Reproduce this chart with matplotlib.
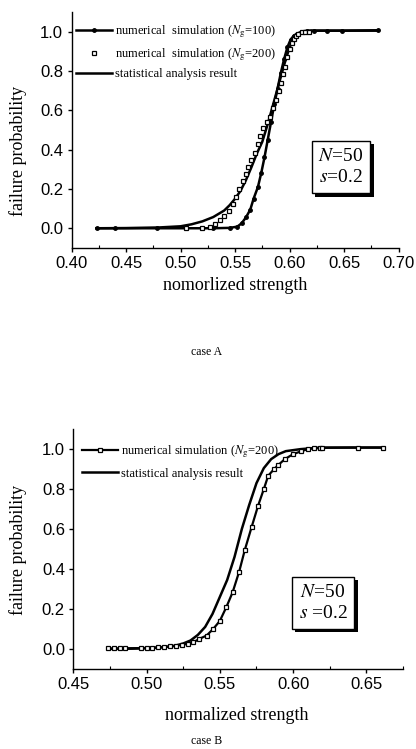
import matplotlib
matplotlib.use("Agg")
import matplotlib.pyplot as plt
import matplotlib.patheffects as pe
from matplotlib.ticker import MultipleLocator

plt.rcParams['mathtext.fontset'] = 'stix'

# ---- case A data ----
a_ng100_x = [0.423, 0.440, 0.478, 0.505, 0.530, 0.545, 0.552, 0.556, 0.560, 0.564, 0.567,
             0.571, 0.574, 0.577, 0.580, 0.583, 0.586, 0.589, 0.592, 0.595, 0.598, 0.601,
             0.604, 0.607, 0.611, 0.616, 0.622, 0.634, 0.648, 0.681]
a_ng100_y = [0, 0, 0, 0, 0, 0.002, 0.008, 0.025, 0.055, 0.095, 0.15,
             0.21, 0.28, 0.36, 0.45, 0.54, 0.63, 0.71, 0.79, 0.86, 0.92, 0.96,
             0.98, 0.99, 1.0, 1.005, 1.005, 1.005, 1.005, 1.007]

a_ng200_x = [0.505, 0.520, 0.527, 0.532, 0.536, 0.540, 0.544, 0.548, 0.551, 0.554, 0.557,
             0.560, 0.562, 0.565, 0.568, 0.571, 0.573, 0.576, 0.579, 0.582, 0.585, 0.588,
             0.590, 0.592, 0.594, 0.596, 0.598, 0.600, 0.602, 0.604, 0.606, 0.608, 0.611,
             0.614, 0.618]
a_ng200_y = [0, 0, 0.005, 0.02, 0.04, 0.06, 0.09, 0.125, 0.16, 0.2, 0.24,
             0.275, 0.31, 0.345, 0.385, 0.43, 0.47, 0.51, 0.54, 0.565, 0.61, 0.65,
             0.70, 0.74, 0.785, 0.82, 0.87, 0.91, 0.94, 0.965, 0.98, 0.99, 1.0,
             1.0, 1.0]

a_stat_x = [0.423, 0.45, 0.48, 0.50, 0.51, 0.52, 0.53, 0.54, 0.545, 0.55, 0.555, 0.56,
            0.565, 0.57, 0.575, 0.58, 0.585, 0.59, 0.595, 0.60, 0.605, 0.61, 0.615, 0.62,
            0.63, 0.65, 0.68]
a_stat_y = [0, 0.001, 0.004, 0.01, 0.02, 0.035, 0.057, 0.09, 0.117, 0.15, 0.19, 0.245,
            0.31, 0.38, 0.44, 0.53, 0.63, 0.73, 0.83, 0.92, 0.97, 0.993, 1.0, 1.005,
            1.005, 1.005, 1.005]

# ---- case B data ----
b_ng200_x = [0.474, 0.478, 0.482, 0.485, 0.496, 0.500, 0.504, 0.508, 0.512, 0.516, 0.520,
             0.524, 0.528, 0.532, 0.536, 0.541, 0.5455, 0.550, 0.5545, 0.5587, 0.5632,
             0.5671, 0.5716, 0.5761, 0.580, 0.583, 0.587, 0.5898, 0.5943, 0.600, 0.6057,
             0.610, 0.614, 0.618, 0.620, 0.644, 0.661]
b_ng200_y = [0.002, 0.002, 0.003, 0.003, 0.004, 0.005, 0.006, 0.008, 0.010, 0.012, 0.015,
             0.02, 0.025, 0.033, 0.05, 0.067, 0.10, 0.14, 0.21, 0.283, 0.387,
             0.497, 0.608, 0.717, 0.80, 0.867, 0.90, 0.92, 0.95, 0.975, 0.99,
             1.0, 1.005, 1.008, 1.008, 1.008, 1.008]

b_stat_x = [0.474, 0.49, 0.50, 0.51, 0.515, 0.52, 0.525, 0.53, 0.535, 0.54, 0.545, 0.55,
            0.555, 0.56, 0.565, 0.57, 0.575, 0.58, 0.585, 0.59, 0.595, 0.60, 0.605, 0.61,
            0.615, 0.62, 0.64, 0.66]
b_stat_y = [0.0, 0.001, 0.003, 0.007, 0.011, 0.017, 0.027, 0.042, 0.07, 0.11, 0.175, 0.26,
            0.345, 0.46, 0.6, 0.72, 0.83, 0.905, 0.95, 0.975, 0.99, 0.995, 1.0, 1.003,
            1.005, 1.007, 1.008, 1.008]

a_xticks = [0.40, 0.45, 0.50, 0.55, 0.60, 0.65, 0.70]
b_xticks = [0.45, 0.50, 0.55, 0.60, 0.65]
yticks = [0.0, 0.2, 0.4, 0.6, 0.8, 1.0]

SERIF = 'Liberation Serif'
SANS = 'Liberation Sans'


def style_axes(ax, xticks, xlim):
    ax.set_xlim(*xlim)
    ax.set_ylim(-0.1, 1.1)
    ax.set_xticks(xticks)
    ax.set_xticklabels([f"{t:.2f}" for t in xticks])
    ax.set_yticks(yticks)
    ax.set_yticklabels([f"{t:.1f}" for t in yticks])
    ax.xaxis.set_minor_locator(MultipleLocator(0.025))
    ax.spines['top'].set_visible(False)
    ax.spines['right'].set_visible(False)
    for s in ['left', 'bottom']:
        ax.spines[s].set_linewidth(1.0)
    ax.tick_params(which='major', direction='out', length=3, width=1, pad=3,
                   labelsize=12)
    ax.tick_params(which='minor', direction='in', length=2, width=0.8)
    for lab in ax.get_xticklabels() + ax.get_yticklabels():
        lab.set_family(SANS)


def param_box(ax, x, y, text):
    # white box with a solid drop shadow
    t = ax.text(x, y, text, transform=ax.transAxes, ha='center', va='center',
                fontsize=14, family=SERIF, linespacing=1.35,
                bbox=dict(boxstyle='square,pad=0.35', fc='white', ec='black', lw=1.0))
    t.get_bbox_patch().set_path_effects([
        pe.SimplePatchShadow(offset=(2.5, -2.5), shadow_rgbFace='black', alpha=1.0),
        pe.Normal()])
    return t


fig = plt.figure(figsize=(4.16, 7.49), dpi=100)

# ---------------- case A ----------------
ax1 = fig.add_axes([0.172, 0.669, 0.786, 0.315])
ax1.plot(a_stat_x, a_stat_y, '-', color='black', lw=1.8,
         label='statistical analysis result', zorder=2)
ax1.plot(a_ng100_x, a_ng100_y, '-', color='black', lw=1.8, marker='o', ms=2.5,
         mfc='black', label=r'numerical  simulation ($N_{\rm g}$=100)', zorder=3)
ax1.plot(a_ng200_x, a_ng200_y, ls='none', marker='s', ms=3.2, mfc='white', mec='black',
         mew=0.9, label=r'numerical  simulation ($N_{\rm g}$=200)', zorder=4)
style_axes(ax1, a_xticks, (0.40, 0.70))
h, l = ax1.get_legend_handles_labels()
ax1.legend([h[1], h[2], h[0]], [l[1], l[2], l[0]], loc='upper left',
           bbox_to_anchor=(0.013, 0.95), frameon=False, borderpad=0, borderaxespad=0,
           handlelength=2.9, handletextpad=0.25, labelspacing=0.45,
           prop={'family': SERIF, 'size': 9})
ax1.set_xlabel('nomorlized strength', family=SERIF, fontsize=13)
ax1.set_ylabel('failure probability', family=SERIF, fontsize=13)
ax1.xaxis.set_label_coords(0.5, -0.125)
ax1.yaxis.set_label_coords(-0.137, 0.41)
param_box(ax1, 0.824, 0.343, '$N$=50\n$s$=0.2')
fig.text(0.497, 1 - 352 / 749, 'case A', ha='center', va='center',
         family=SERIF, fontsize=8.5)

# ---------------- case B ----------------
ax2 = fig.add_axes([0.176, 0.107, 0.793, 0.320])
ax2.plot(b_ng200_x, b_ng200_y, '-', color='black', lw=1.6, marker='s', ms=3.2,
         mfc='white', mec='black', mew=0.9,
         label=r'numerical simulation ($N_{\rm g}$=200)', zorder=3)
ax2.plot(b_stat_x, b_stat_y, '-', color='black', lw=1.8,
         label='statistical analysis result', zorder=2)
style_axes(ax2, b_xticks, (0.45, 0.675))
ax2.legend(loc='upper left', bbox_to_anchor=(0.026, 0.94), frameon=False, borderpad=0,
           borderaxespad=0, handlelength=2.9, handletextpad=0.2, labelspacing=0.6,
           prop={'family': SERIF, 'size': 9})
ax2.set_xlabel('normalized strength', family=SERIF, fontsize=13)
ax2.set_ylabel('failure probability', family=SERIF, fontsize=13)
ax2.xaxis.set_label_coords(0.496, -0.158)
ax2.yaxis.set_label_coords(-0.14, 0.496)
param_box(ax2, 0.757, 0.275, '$N$=50\n$s$ =0.2')
fig.text(0.497, 1 - 741 / 749, 'case B', ha='center', va='center',
         family=SERIF, fontsize=8.5)

fig.savefig('out.png', dpi=100)
